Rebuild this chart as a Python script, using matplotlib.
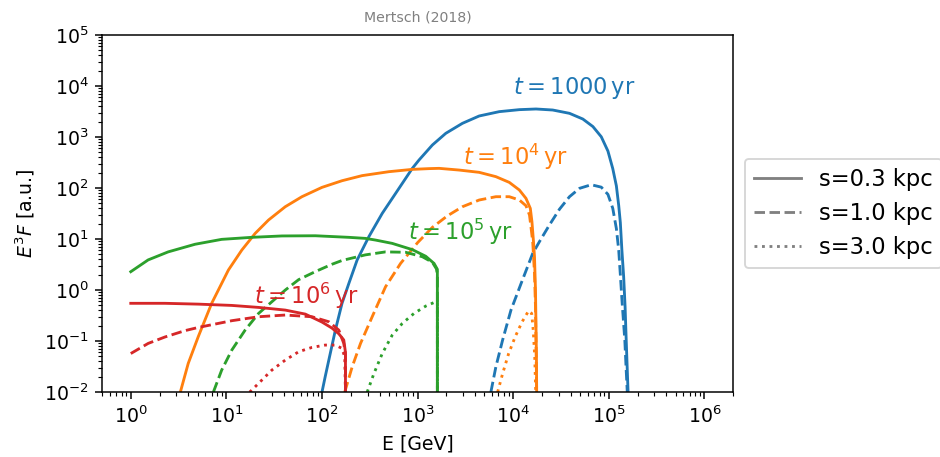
import numpy as np
import matplotlib
matplotlib.use('Agg')
import matplotlib.pyplot as plt
from matplotlib.lines import Line2D
from matplotlib.ticker import LogLocator, NullFormatter

# E [GeV] and E^3 F [a.u.] for each source age t and distance s

# t = 1000 yr
E_1e3_s03 = [100, 108, 122, 138, 162, 191, 233, 309, 427, 589, 881, 1035, 1428, 1971, 2946,
             4406, 7150, 11600, 17330, 25900, 38800, 53500, 68200, 83400, 97900, 110000,
             120000, 127000, 132000, 137000, 143000, 148000, 152000, 156000, 159000]
F_1e3_s03 = [0.01, 0.020, 0.057, 0.164, 0.55, 1.35, 3.87, 11.1, 31.9, 78.5, 243, 354, 697, 1180, 1855,
             2582, 3140, 3436, 3540, 3380, 2910, 2250, 1600, 1010, 530, 240,
             110, 45, 21, 6.08, 1.82, 0.47, 0.105, 0.027, 0.01]
E_1e3_s10 = [5840, 6590, 7750, 9480, 12100, 16000, 18800, 23900, 30500, 38800, 49400, 65500,
             83400, 97900, 110000, 120000, 127000, 132000, 138000, 147000, 152000, 156000]
F_1e3_s10 = [0.01, 0.0314, 0.105, 0.406, 1.35, 5.24, 8.87, 18.8, 38.5, 67.6, 98.6, 116,
             104, 75, 40, 16, 6.0, 2.0, 0.55, 0.105, 0.027, 0.01]

# t = 1e4 yr
E_1e4_s03 = [3.3, 3.99, 5.08, 7.02, 10.5, 14.5, 20.0, 27.6, 41.3, 61.7, 100, 162, 263, 501, 881,
             1318, 1678, 2718, 4406, 6590, 9100, 11600, 13600, 15100, 15700, 16300, 16700,
             17100, 17300, 17500, 17600]
F_1e4_s03 = [0.01, 0.0365, 0.122, 0.55, 2.47, 6.08, 12.9, 23.6, 43, 67.6, 103, 139, 175, 209, 232,
             240, 243, 225, 203, 167, 129, 91.4, 62.7, 39.9, 21.9, 8.87, 4.51,
             1.0, 0.222, 0.049, 0.01]
E_1e4_s10 = [173, 207, 253, 335, 462, 664, 1000, 1430, 2050, 2946, 4406, 6590, 9100, 11600,
             13600, 14800, 15400, 16000, 16700, 17100, 17300, 17600]
F_1e4_s10 = [0.01, 0.0314, 0.090, 0.30, 1.16, 3.33, 8.5, 17, 28.5, 43, 58.2, 67.6, 67.6, 58.2,
             45, 29.6, 16.2, 8.87, 2.12, 0.47, 0.105, 0.01]
E_1e4_s30 = [6870, 7750, 8960, 10500, 12400, 14500, 15600, 16200, 16800, 17200]
F_1e4_s30 = [0.01, 0.023, 0.057, 0.122, 0.239, 0.393, 0.348, 0.164, 0.049, 0.01]

# t = 1e5 yr
E_1e5_s03 = [1.0, 1.52, 2.46, 4.70, 8.93, 18.4, 38.1, 85.2, 191, 285, 363, 543, 881,
             1216, 1486, 1610, 1610]
F_1e5_s03 = [2.29, 3.9, 5.6, 7.9, 9.86, 10.8, 11.5, 11.6, 10.8, 10.3, 9.55, 8.22, 6.2,
             4.6, 3.33, 2.55, 0.01]
E_1e5_s10 = [7.31, 8.93, 11.4, 15.7, 21.7, 29.9, 41.3, 57, 85.2, 127, 162, 285, 462, 750,
             1122, 1428, 1574, 1610, 1610]
F_1e5_s10 = [0.01, 0.027, 0.0667, 0.164, 0.348, 0.59, 1.0, 1.6, 2.3, 3.2, 3.8, 4.9, 5.6, 5.5,
             4.5, 3.5, 2.6, 2.0, 0.01]
E_1e5_s30 = [297, 349, 427, 543, 692, 916, 1216, 1549, 1610, 1610]
F_1e5_s30 = [0.01, 0.023, 0.057, 0.131, 0.222, 0.348, 0.485, 0.59, 0.55, 0.01]

# t = 1e6 yr
E_1e6_s03 = [1.0, 2.27, 5.08, 11.4, 21.7, 41.3, 66.9, 100, 127, 150, 169, 176, 176]
F_1e6_s03 = [0.55, 0.55, 0.53, 0.50, 0.457, 0.405, 0.338, 0.236, 0.18, 0.139, 0.105, 0.06, 0.01]
E_1e6_s10 = [1.0, 1.52, 2.27, 3.68, 5.08, 11.4, 21.7, 41.3, 78.6, 118, 150, 169, 176, 176]
F_1e6_s10 = [0.057, 0.090, 0.12, 0.16, 0.185, 0.251, 0.30, 0.324, 0.30, 0.239, 0.164,
             0.09, 0.055, 0.01]
E_1e6_s30 = [17.5, 18.4, 23.5, 29.9, 41.3, 57, 78.6, 108, 138, 162, 173, 176]
F_1e6_s30 = [0.01, 0.0109, 0.0172, 0.027, 0.0424, 0.0618, 0.0752, 0.0835, 0.0835, 0.0718, 0.049, 0.01]

labels = [r'$t=1000\,\mathrm{yr}$', r'$t=10^4\,\mathrm{yr}$', r'$t=10^5\,\mathrm{yr}$', r'$t=10^6\,\mathrm{yr}$']
label_E = [43800, 10500, 2790, 69.2]
label_F = [9140, 405, 13.7, 0.76]
colors = ['C0', 'C1', 'C2', 'C3']
s_names = ['s=0.3 kpc', 's=1.0 kpc', 's=3.0 kpc']
styles = ['-', '--', ':']

x_ticks = [1e0, 1e1, 1e2, 1e3, 1e4, 1e5, 1e6]
y_ticks = [1e-2, 1e-1, 1e0, 1e1, 1e2, 1e3, 1e4, 1e5]

curves = [
    [(E_1e3_s03, F_1e3_s03), (E_1e3_s10, F_1e3_s10), None],
    [(E_1e4_s03, F_1e4_s03), (E_1e4_s10, F_1e4_s10), (E_1e4_s30, F_1e4_s30)],
    [(E_1e5_s03, F_1e5_s03), (E_1e5_s10, F_1e5_s10), (E_1e5_s30, F_1e5_s30)],
    [(E_1e6_s03, F_1e6_s03), (E_1e6_s10, F_1e6_s10), (E_1e6_s30, F_1e6_s30)],
]

fig = plt.figure(figsize=(940/136, 457/136), dpi=136)
ax = fig.add_axes([0.1085, 0.142, 0.6715, 0.7815])

for i, row in enumerate(curves):
    for j, c in enumerate(row):
        if c is None:
            continue
        ax.plot(c[0], c[1], color=colors[i], ls=styles[j])
    ax.text(label_E[i], label_F[i], labels[i], color=colors[i], fontsize=12,
            ha='center', va='center')

ax.set_xscale('log')
ax.set_yscale('log')
ax.set_xlim(0.5, 2e6)
ax.set_ylim(1e-2, 1e5)
ax.set_xticks(x_ticks)
ax.set_yticks(y_ticks)
for axis in (ax.xaxis, ax.yaxis):
    axis.set_minor_locator(LogLocator(base=10, subs=np.arange(2, 10), numticks=200))
    axis.set_minor_formatter(NullFormatter())
ax.set_xlabel('E [GeV]')
ax.set_ylabel(r'$E^3F$ [a.u.]')
ax.set_title('Mertsch (2018)', color='gray', fontsize=7.5, pad=7)

handles = [Line2D([], [], color='gray', ls=st) for st in styles]
ax.legend(handles, s_names, loc='center left', bbox_to_anchor=(1.0, 0.5), fontsize=12,
          handlelength=2.1)

fig.savefig('out.png', dpi=136)
